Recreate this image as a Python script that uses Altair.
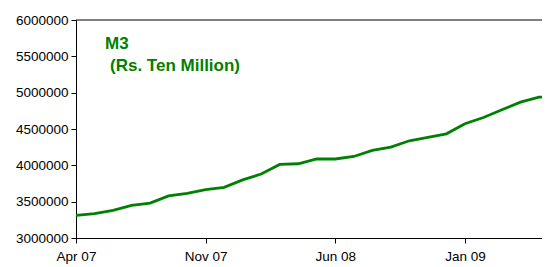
import altair as alt
import pandas as pd

months = ["Apr 07", "May 07", "Jun 07", "Jul 07", "Aug 07", "Sep 07", "Oct 07",
          "Nov 07", "Dec 07", "Jan 08", "Feb 08", "Mar 08", "Apr 08", "May 08",
          "Jun 08", "Jul 08", "Aug 08", "Sep 08", "Oct 08", "Nov 08", "Dec 08",
          "Jan 09", "Feb 09", "Mar 09", "Apr 09", "May 09", "Jun 09"]
m3 = [3310000, 3335000, 3380000, 3450000, 3480000, 3580000, 3615000,
      3665000, 3697000, 3800000, 3880000, 4013000, 4022000, 4090000,
      4087000, 4122000, 4205000, 4250000, 4338000, 4384000, 4434000,
      4572000, 4658000, 4764000, 4870000, 4938000, 4945000]
tick_months = ["Apr 07", "Nov 07", "Jun 08", "Jan 09"]
y_ticks = [3000000, 3500000, 4000000, 4500000, 5000000, 5500000, 6000000]
title_lines = ["M3", "(Rs. Ten Million)"]

df = pd.DataFrame({"idx": list(range(len(months))), "month": months, "m3": m3})
one = pd.DataFrame({"k": [0]})
tick_idx = [months.index(m) for m in tick_months]
label_expr = "[" + ",".join("'%s'" % m for m in months) + "][datum.value]"

FONT = "Liberation Sans"
GREEN = "#008000"
PLOT_W = 466
PX_PER_MONTH = 18.52

x_enc = alt.X("idx:Q",
              scale=alt.Scale(domain=[0, PLOT_W / PX_PER_MONTH], nice=False, zero=False),
              axis=alt.Axis(values=tick_idx, labelExpr=label_expr, title=None,
                            grid=False, tickSize=5, labelPadding=6,
                            labelFlush=False, labelOverlap=False,
                            domainColor="black", tickColor="black",
                            labelColor="black", labelFont=FONT, labelFontSize=13.5))
y_enc = alt.Y("m3:Q",
              scale=alt.Scale(domain=[3000000, 6000000], nice=False, zero=False),
              axis=alt.Axis(values=y_ticks, format="d", title=None, grid=False,
                            tickSize=5, labelPadding=3, labelFlush=False,
                            labelOverlap=False, domainColor="black",
                            tickColor="black", labelColor="black",
                            labelFont=FONT, labelFontSize=13.5))

line = alt.Chart(df).mark_line(color=GREEN, strokeWidth=2.8, clip=True).encode(
    x=x_enc, y=y_enc)

top_rule = alt.Chart(one).mark_rule(color="black", strokeWidth=1).encode(
    x=alt.value(0), x2=alt.value(PLOT_W), y=alt.value(0))

t1 = alt.Chart(one).mark_text(text=title_lines[0], color=GREEN, font=FONT,
                              fontSize=17, fontWeight="bold", align="left",
                              baseline="alphabetic").encode(
    x=alt.value(29), y=alt.value(28.5))
t2 = alt.Chart(one).mark_text(text=title_lines[1], color=GREEN, font=FONT,
                              fontSize=17, fontWeight="bold", align="left",
                              baseline="alphabetic").encode(
    x=alt.value(34), y=alt.value(50.5))

chart = alt.layer(line, top_rule, t1, t2).properties(
    width=PLOT_W, height=218,
    autosize=alt.AutoSizeParams(type="none"),
    padding={"left": 68, "top": 12, "right": 0, "bottom": 29},
).configure_view(stroke=None)

chart.save("out.html", embed_options={"renderer": "svg", "actions": False})
